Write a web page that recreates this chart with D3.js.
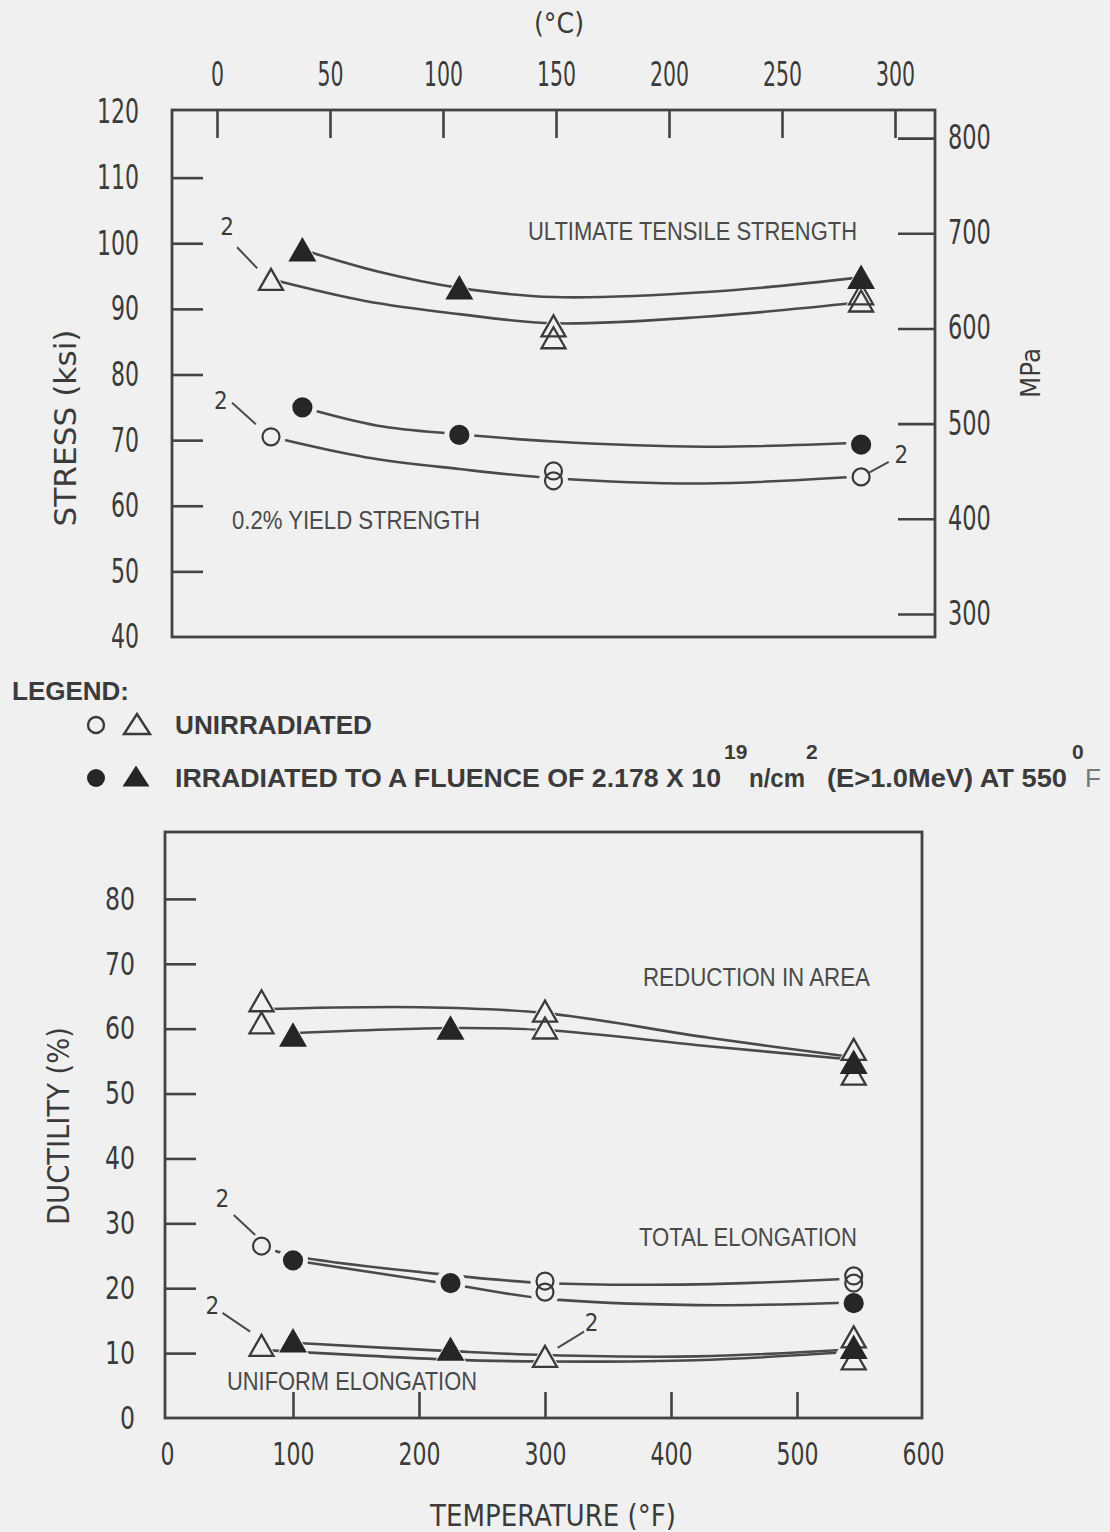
<!DOCTYPE html>
<html><head><meta charset="utf-8">
<script src="https://cdn.jsdelivr.net/npm/d3@7"></script>
<style>
body{margin:0;background:#f0f0f0;}
svg{display:block;}
</style></head><body>
<svg id="chart" width="1110" height="1532"></svg>
<script>
// ---------------- DATA ----------------
// Tick labels
const cTicks   = [0, 50, 100, 150, 200, 250, 300];
const ksiTicks = [40, 50, 60, 70, 80, 90, 100, 110, 120];
const mpaTicks = [300, 400, 500, 600, 700, 800];
const fTicks   = [0, 100, 200, 300, 400, 500, 600];
const pctTicks = [0, 10, 20, 30, 40, 50, 60, 70, 80];

// Top panel: measured points (temperature °F, stress ksi)
const utsUnirrT = [75, 300, 300, 545, 545];
const utsUnirrV = [94.5, 87.4, 85.6, 92.3, 91.2];
const utsIrrT   = [100, 225, 545];
const utsIrrV   = [99.0, 93.2, 94.8];
const ysUnirrT  = [75, 300, 300, 545];
const ysUnirrV  = [70.5, 65.3, 63.8, 64.4];
const ysIrrT    = [100, 225, 545];
const ysIrrV    = [75.0, 70.8, 69.3];

// Top panel: fitted curves
const utsUnirrCurveT = [75, 150, 225, 300, 420, 545];
const utsUnirrCurveV = [94.5, 91.2, 89.2, 87.8, 88.8, 91.0];
const utsIrrCurveT   = [100, 160, 225, 300, 425, 545];
const utsIrrCurveV   = [99.0, 95.7, 93.2, 91.8, 92.6, 94.8];
const ysUnirrCurveT  = [75, 150, 225, 300, 420, 545];
const ysUnirrCurveV  = [70.5, 67.4, 65.6, 64.2, 63.4, 64.5];
const ysIrrCurveT    = [100, 160, 225, 300, 420, 545];
const ysIrrCurveV    = [75.0, 72.2, 70.9, 69.8, 69.0, 69.6];

// Bottom panel: measured points (temperature °F, ductility %)
const raUnirrT = [75, 75, 300, 300, 545, 545];
const raUnirrV = [64.3, 60.9, 62.7, 60.1, 56.8, 53.0];
const raIrrT   = [100, 225, 545];
const raIrrV   = [59.0, 60.1, 54.8];
const teUnirrT = [75, 300, 300, 545, 545];
const teUnirrV = [26.5, 21.1, 19.4, 21.9, 20.8];
const teIrrT   = [100, 225, 545];
const teIrrV   = [24.3, 20.8, 17.7];
const ueUnirrT = [75, 300, 545, 545];
const ueUnirrV = [11.2, 9.5, 12.5, 9.1];
const ueIrrT   = [100, 225, 545];
const ueIrrV   = [11.9, 10.6, 10.9];

// Bottom panel: fitted curves
const raUnirrCurveT = [75, 200, 300, 430, 545];
const raUnirrCurveV = [63.0, 63.3, 62.4, 58.6, 55.6];
const raIrrCurveT   = [100, 225, 300, 430, 545];
const raIrrCurveV   = [59.3, 60.1, 59.8, 57.3, 55.2];
const teUnirrCurveT = [75, 100, 225, 300, 420, 545];
const teUnirrCurveV = [26.5, 25.0, 22.0, 20.8, 20.6, 21.5];
const teIrrCurveT   = [100, 225, 300, 420, 545];
const teIrrCurveV   = [24.3, 20.6, 18.4, 17.4, 17.8];
const ueIrrCurveT   = [100, 225, 300, 420, 545];
const ueIrrCurveV   = [11.6, 10.3, 9.7, 9.5, 10.6];
const ueUnirrCurveT = [75, 225, 300, 420, 545];
const ueUnirrCurveV = [10.5, 9.0, 8.7, 8.9, 10.2];

// "2" callouts (label point and leader end points, in data units)
const topNotes = [
  {t: 40, v: 102.6, t1: 48, v1: 99.4, t2: 64, v2: 96.2},
  {t: 35, v: 76.1, t1: 44, v1: 75.7, t2: 63, v2: 72.4},
  {t: 577, v: 67.9, t1: 551, v1: 65.0, t2: 567, v2: 66.7}
];
const botNotes = [
  {t: 44, v: 33.9, t1: 53, v1: 31.3, t2: 70, v2: 28.2},
  {t: 36, v: 17.4, t1: 44, v1: 16.2, t2: 66, v2: 13.3},
  {t: 337, v: 14.8, t1: 331, v1: 13.3, t2: 310, v2: 10.8}
];

// ---------------- STYLE / LAYOUT ----------------
const BG = "#f0f0f0", INK = "#434343", TXT = "#3b3b3b";
const NARROW = "'Liberation Sans Narrow','DejaVu Sans Condensed','Arial Narrow','Liberation Sans',sans-serif";
const SANS = "'Liberation Sans',Arial,sans-serif";
const TOPF = {left: 172, right: 935, top: 110, bottom: 637};
const BOTF = {left: 165, right: 922, top: 832, bottom: 1418};

const svg = d3.select("#chart");
svg.append("rect").attr("width", 1110).attr("height", 1532).attr("fill", BG);

// scales
const toC = f => (f - 32) * 5 / 9;
const xTopC = d3.scaleLinear().domain([0, 300]).range([217, 895]);
const xTop = f => xTopC(toC(f));
const yKsi = d3.scaleLinear().domain([40, 120]).range([637, 112]);
const yMPa = d3.scaleLinear().domain([40 * 6.895, 120 * 6.895]).range([637, 112]);
const xF = d3.scaleLinear().domain([0, 600]).range([167, 923]);
const yPct = d3.scaleLinear().domain([0, 90]).range([1418, 834]);

function styleAxis(g, size, digitW, keep) {
  g.attr("font-size", null).attr("font-family", null);
  g.select(".domain").remove();
  g.selectAll(".tick line").attr("stroke", INK).attr("stroke-width", 2.6)
    .filter(d => !keep(d)).remove();
  g.selectAll(".tick text").attr("fill", TXT)
    .style("font-size", size + "px").style("font-family", NARROW)
    .attr("textLength", d => String(d).length * digitW)
    .attr("lengthAdjust", "spacingAndGlyphs");
}

// ---------------- TOP PANEL ----------------
const topG = svg.append("g");
topG.append("rect").attr("x", TOPF.left).attr("y", TOPF.top)
  .attr("width", TOPF.right - TOPF.left).attr("height", TOPF.bottom - TOPF.top)
  .attr("fill", "none").attr("stroke", INK).attr("stroke-width", 2.8);

topG.append("g").attr("transform", `translate(0,${TOPF.top})`)
  .call(d3.axisTop(xTopC).tickValues(cTicks).tickSizeInner(-28).tickSizeOuter(0).tickPadding(24))
  .call(g => styleAxis(g, 33, 13, () => true));

topG.append("g").attr("transform", `translate(${TOPF.left},0)`)
  .call(d3.axisLeft(yKsi).tickValues(ksiTicks).tickSizeInner(-31).tickSizeOuter(0).tickPadding(33))
  .call(g => styleAxis(g, 34, 14, d => d > 40 && d < 120));

topG.append("g").attr("transform", `translate(${TOPF.right},0)`)
  .call(d3.axisRight(yMPa).tickValues(mpaTicks).tickSizeInner(-37).tickSizeOuter(0).tickPadding(13))
  .call(g => styleAxis(g, 33, 14.3, () => true));

topG.append("text").attr("x", 559).attr("y", 33).attr("text-anchor", "middle")
  .style("font-family", NARROW).style("font-size", "28px").attr("fill", TXT)
  .attr("textLength", 50).attr("lengthAdjust", "spacingAndGlyphs").text("(°C)");
topG.append("text").attr("transform", "translate(65,428) rotate(-90)").attr("text-anchor", "middle")
  .attr("dy", "0.36em").style("font-family", NARROW).style("font-size", "31px").attr("fill", TXT)
  .attr("textLength", 197).attr("lengthAdjust", "spacingAndGlyphs").text("STRESS (ksi)");
topG.append("text").attr("transform", "translate(1030,373) rotate(-90)").attr("text-anchor", "middle")
  .attr("dy", "0.36em").style("font-family", NARROW).style("font-size", "27px").attr("fill", TXT)
  .attr("textLength", 50).attr("lengthAdjust", "spacingAndGlyphs").text("MPa");

function annot(g, x, y, len, size, txt) {
  g.append("text").attr("x", x).attr("y", y).style("font-family", SANS).style("font-size", size + "px")
    .attr("fill", "#4a4a4a").attr("textLength", len).attr("lengthAdjust", "spacingAndGlyphs").text(txt);
}
annot(topG, 528, 240, 329, 26, "ULTIMATE TENSILE STRENGTH");
annot(topG, 232, 529, 248, 26, "0.2% YIELD STRENGTH");

// ---------------- marker helpers ----------------
const triPath = (w, h) => `M0,${-h / 2}L${w / 2},${h / 2}L${-w / 2},${h / 2}Z`;
function drawCurve(g, xs, ys, T, V) {
  const line = d3.line().x(d => xs(d[0])).y(d => ys(d[1])).curve(d3.curveCatmullRom.alpha(0.5));
  g.append("path").datum(d3.zip(T, V)).attr("d", line)
    .attr("fill", "none").attr("stroke", "#4a4a4a").attr("stroke-width", 2.6);
}
function drawMarkers(g, xs, ys, sets) {
  sets.forEach(s => {
    const pts = d3.zip(s.T, s.V);
    if (s.shape === "tri") {
      g.selectAll(null).data(pts).join("path").attr("d", triPath(s.w + 12, s.h + 11))
        .attr("transform", d => `translate(${xs(d[0])},${ys(d[1]) + 1})`).attr("fill", BG);
    } else {
      g.selectAll(null).data(pts).join("circle").attr("r", s.r + 6)
        .attr("cx", d => xs(d[0])).attr("cy", d => ys(d[1])).attr("fill", BG);
    }
  });
  sets.forEach(s => {
    const pts = d3.zip(s.T, s.V);
    const fill = s.filled ? "#262626" : "none";
    if (s.shape === "tri") {
      g.selectAll(null).data(pts).join("path").attr("d", triPath(s.w, s.h))
        .attr("transform", d => `translate(${xs(d[0])},${ys(d[1])})`)
        .attr("fill", fill).attr("stroke", s.filled ? "#262626" : "#3a3a3a")
        .attr("stroke-width", 2.3).attr("stroke-linejoin", "miter");
    } else {
      g.selectAll(null).data(pts).join("circle").attr("r", s.r)
        .attr("cx", d => xs(d[0])).attr("cy", d => ys(d[1]))
        .attr("fill", fill).attr("stroke", s.filled ? "#262626" : "#3a3a3a").attr("stroke-width", 2.2);
    }
  });
}
function drawNotes(g, xs, ys, notes) {
  notes.forEach(n => {
    g.append("line").attr("x1", xs(n.t1)).attr("y1", ys(n.v1)).attr("x2", xs(n.t2)).attr("y2", ys(n.v2))
      .attr("stroke", "#4a4a4a").attr("stroke-width", 2);
    g.append("text").attr("x", xs(n.t)).attr("y", ys(n.v)).attr("dy", "0.36em").attr("text-anchor", "middle")
      .style("font-family", NARROW).style("font-size", "24px").attr("fill", TXT).text("2");
  });
}

drawCurve(topG, xTop, yKsi, utsUnirrCurveT, utsUnirrCurveV);
drawCurve(topG, xTop, yKsi, utsIrrCurveT, utsIrrCurveV);
drawCurve(topG, xTop, yKsi, ysUnirrCurveT, ysUnirrCurveV);
drawCurve(topG, xTop, yKsi, ysIrrCurveT, ysIrrCurveV);
drawMarkers(topG, xTop, yKsi, [
  {T: utsUnirrT, V: utsUnirrV, shape: "tri", w: 24, h: 21, filled: false},
  {T: utsIrrT, V: utsIrrV, shape: "tri", w: 24, h: 21, filled: true},
  {T: ysUnirrT, V: ysUnirrV, shape: "circ", r: 8.5, filled: false},
  {T: ysIrrT, V: ysIrrV, shape: "circ", r: 9, filled: true}
]);
drawNotes(topG, xTop, yKsi, topNotes);

// ---------------- LEGEND ----------------
const leg = svg.append("g").attr("fill", TXT).style("font-family", SANS).style("font-weight", "bold");
leg.append("text").attr("x", 12).attr("y", 700).style("font-size", "26px")
  .attr("textLength", 117).attr("lengthAdjust", "spacingAndGlyphs").text("LEGEND:");
leg.append("circle").attr("cx", 96).attr("cy", 725).attr("r", 8).attr("fill", "none").attr("stroke", "#3a3a3a").attr("stroke-width", 2.4);
leg.append("path").attr("d", triPath(26, 20)).attr("transform", "translate(137,724)").attr("fill", "none").attr("stroke", "#3a3a3a").attr("stroke-width", 2.4);
leg.append("text").attr("x", 175).attr("y", 734).style("font-size", "26px")
  .attr("textLength", 197).attr("lengthAdjust", "spacingAndGlyphs").text("UNIRRADIATED");
leg.append("circle").attr("cx", 96).attr("cy", 778).attr("r", 9).attr("fill", "#262626");
leg.append("path").attr("d", triPath(27, 21)).attr("transform", "translate(136,776)").attr("fill", "#262626");
leg.append("text").attr("x", 175).attr("y", 787).style("font-size", "26px")
  .attr("textLength", 546).attr("lengthAdjust", "spacingAndGlyphs").text("IRRADIATED TO A FLUENCE OF 2.178 X 10");
leg.append("text").attr("x", 724).attr("y", 759).style("font-size", "21px").text("19");
leg.append("text").attr("x", 749).attr("y", 787).style("font-size", "26px")
  .attr("textLength", 56).attr("lengthAdjust", "spacingAndGlyphs").text("n/cm");
leg.append("text").attr("x", 806).attr("y", 759).style("font-size", "21px").text("2");
leg.append("text").attr("x", 827).attr("y", 787).style("font-size", "26px")
  .attr("textLength", 240).attr("lengthAdjust", "spacingAndGlyphs").text("(E>1.0MeV) AT 550");
leg.append("text").attr("x", 1072).attr("y", 759).style("font-size", "21px").text("0");
leg.append("text").attr("x", 1085).attr("y", 787).style("font-size", "26px").attr("fill", "#777").style("font-weight", "normal").text("F");

// ---------------- BOTTOM PANEL ----------------
const botG = svg.append("g");
botG.append("rect").attr("x", BOTF.left).attr("y", BOTF.top)
  .attr("width", BOTF.right - BOTF.left).attr("height", BOTF.bottom - BOTF.top)
  .attr("fill", "none").attr("stroke", INK).attr("stroke-width", 2.8);

botG.append("g").attr("transform", `translate(${BOTF.left},0)`)
  .call(d3.axisLeft(yPct).tickValues(pctTicks).tickSizeInner(-31).tickSizeOuter(0).tickPadding(30))
  .call(g => styleAxis(g, 32, 15, d => d > 0));

botG.append("g").attr("transform", `translate(0,${BOTF.bottom})`)
  .call(d3.axisBottom(xF).tickValues(fTicks).tickSizeInner(-26).tickSizeOuter(0).tickPadding(24))
  .call(g => styleAxis(g, 32, 14, d => d > 0 && d < 600));

botG.append("text").attr("x", 553).attr("y", 1526).attr("text-anchor", "middle")
  .style("font-family", NARROW).style("font-size", "31px").attr("fill", TXT)
  .attr("textLength", 246).attr("lengthAdjust", "spacingAndGlyphs").text("TEMPERATURE (°F)");
botG.append("text").attr("transform", "translate(58,1126) rotate(-90)").attr("text-anchor", "middle")
  .attr("dy", "0.36em").style("font-family", NARROW).style("font-size", "31px").attr("fill", TXT)
  .attr("textLength", 198).attr("lengthAdjust", "spacingAndGlyphs").text("DUCTILITY (%)");

annot(botG, 643, 986, 227, 25, "REDUCTION IN AREA");
annot(botG, 639, 1246, 218, 26, "TOTAL ELONGATION");
annot(botG, 227, 1390, 250, 25, "UNIFORM ELONGATION");

drawCurve(botG, xF, yPct, raUnirrCurveT, raUnirrCurveV);
drawCurve(botG, xF, yPct, raIrrCurveT, raIrrCurveV);
drawCurve(botG, xF, yPct, teUnirrCurveT, teUnirrCurveV);
drawCurve(botG, xF, yPct, teIrrCurveT, teIrrCurveV);
drawCurve(botG, xF, yPct, ueIrrCurveT, ueIrrCurveV);
drawCurve(botG, xF, yPct, ueUnirrCurveT, ueUnirrCurveV);
drawMarkers(botG, xF, yPct, [
  {T: raUnirrT, V: raUnirrV, shape: "tri", w: 24, h: 21, filled: false},
  {T: raIrrT, V: raIrrV, shape: "tri", w: 24, h: 21, filled: true},
  {T: teUnirrT, V: teUnirrV, shape: "circ", r: 8.5, filled: false},
  {T: teIrrT, V: teIrrV, shape: "circ", r: 9, filled: true},
  {T: ueUnirrT, V: ueUnirrV, shape: "tri", w: 24, h: 21, filled: false},
  {T: ueIrrT, V: ueIrrV, shape: "tri", w: 24, h: 21, filled: true}
]);
drawNotes(botG, xF, yPct, botNotes);
</script>
</body></html>
